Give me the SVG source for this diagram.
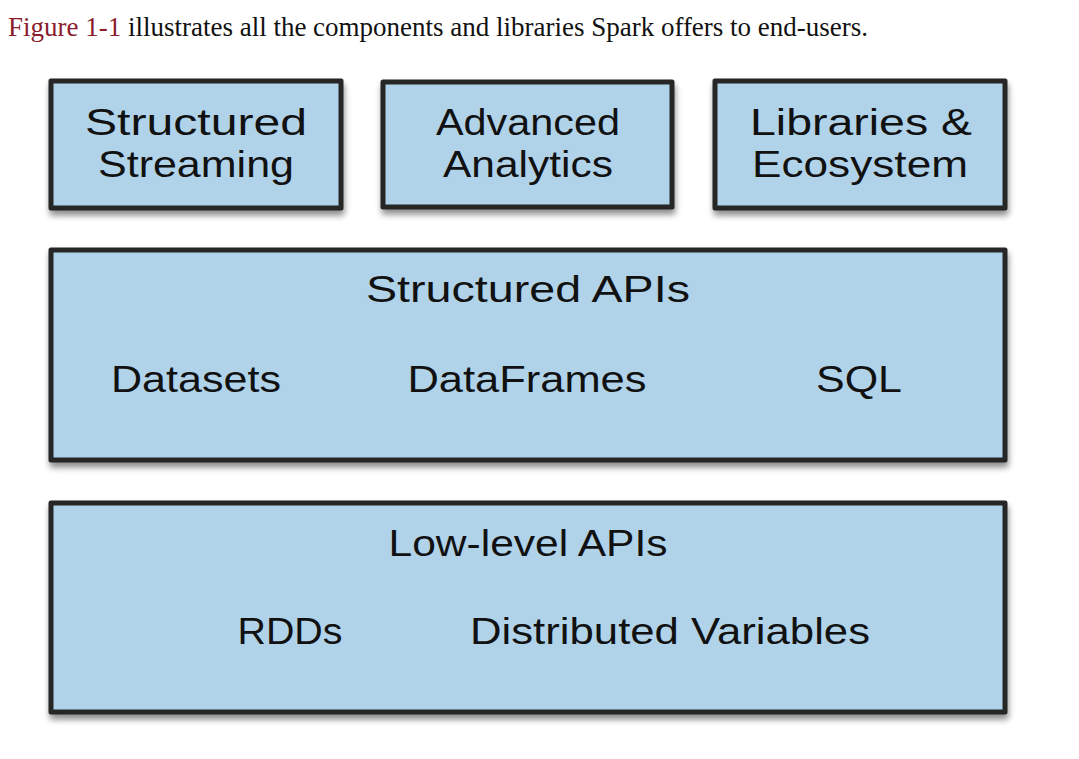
<svg xmlns="http://www.w3.org/2000/svg" width="1079" height="759" viewBox="0 0 1079 759">
<defs>
<style>
.box{fill:#b0d3ea;stroke:#262626;stroke-width:5;stroke-linejoin:round}
.lbl{font-family:"Liberation Sans",Arial,sans-serif;font-size:36px;fill:#111;text-anchor:middle}
.cap{font-family:"Liberation Serif",serif;font-size:27px;fill:#111}
</style>
<filter id="sh" x="-5%" y="-10%" width="110%" height="130%">
<feGaussianBlur in="SourceAlpha" stdDeviation="3"/>
<feOffset dx="1" dy="5" result="b"/>
<feComponentTransfer><feFuncA type="linear" slope="0.45"/></feComponentTransfer>
<feMerge><feMergeNode/><feMergeNode in="SourceGraphic"/></feMerge>
</filter>
</defs>
<rect width="1079" height="759" fill="#fff"/>
<text class="cap" x="8" y="36" textLength="860"><tspan fill="#8a1c2c">Figure 1-1</tspan> illustrates all the components and libraries Spark offers to end-users.</text>
<g id="streaming">
<rect class="box" x="51" y="81" width="290" height="127" filter="url(#sh)"/>
<text class="lbl" x="196" y="135" textLength="222" lengthAdjust="spacingAndGlyphs">Structured</text>
<text class="lbl" x="196" y="177" textLength="196" lengthAdjust="spacingAndGlyphs">Streaming</text>
</g>
<g id="analytics">
<rect class="box" x="383" y="82" width="289" height="125" filter="url(#sh)"/>
<text class="lbl" x="528" y="135" textLength="184" lengthAdjust="spacingAndGlyphs">Advanced</text>
<text class="lbl" x="528" y="177" textLength="170" lengthAdjust="spacingAndGlyphs">Analytics</text>
</g>
<g id="libraries">
<rect class="box" x="715" y="81" width="290" height="127" filter="url(#sh)"/>
<text class="lbl" x="861" y="135" textLength="222" lengthAdjust="spacingAndGlyphs">Libraries &amp;</text>
<text class="lbl" x="860" y="177" textLength="216" lengthAdjust="spacingAndGlyphs">Ecosystem</text>
</g>
<g id="structured-apis">
<rect class="box" x="51" y="250" width="954" height="210" filter="url(#sh)"/>
<text class="lbl" x="528" y="302" textLength="324" lengthAdjust="spacingAndGlyphs">Structured APIs</text>
<text class="lbl" x="196" y="392" textLength="170" lengthAdjust="spacingAndGlyphs">Datasets</text>
<text class="lbl" x="527" y="392" textLength="239" lengthAdjust="spacingAndGlyphs">DataFrames</text>
<text class="lbl" x="859" y="392" textLength="86" lengthAdjust="spacingAndGlyphs">SQL</text>
</g>
<g id="low-level-apis">
<rect class="box" x="51" y="503" width="954" height="209" filter="url(#sh)"/>
<text class="lbl" x="528" y="556" textLength="279" lengthAdjust="spacingAndGlyphs">Low-level APIs</text>
<text class="lbl" x="290" y="644" textLength="105" lengthAdjust="spacingAndGlyphs">RDDs</text>
<text class="lbl" x="670" y="644" textLength="400" lengthAdjust="spacingAndGlyphs">Distributed Variables</text>
</g>
<g id="connectors"/>
</svg>
